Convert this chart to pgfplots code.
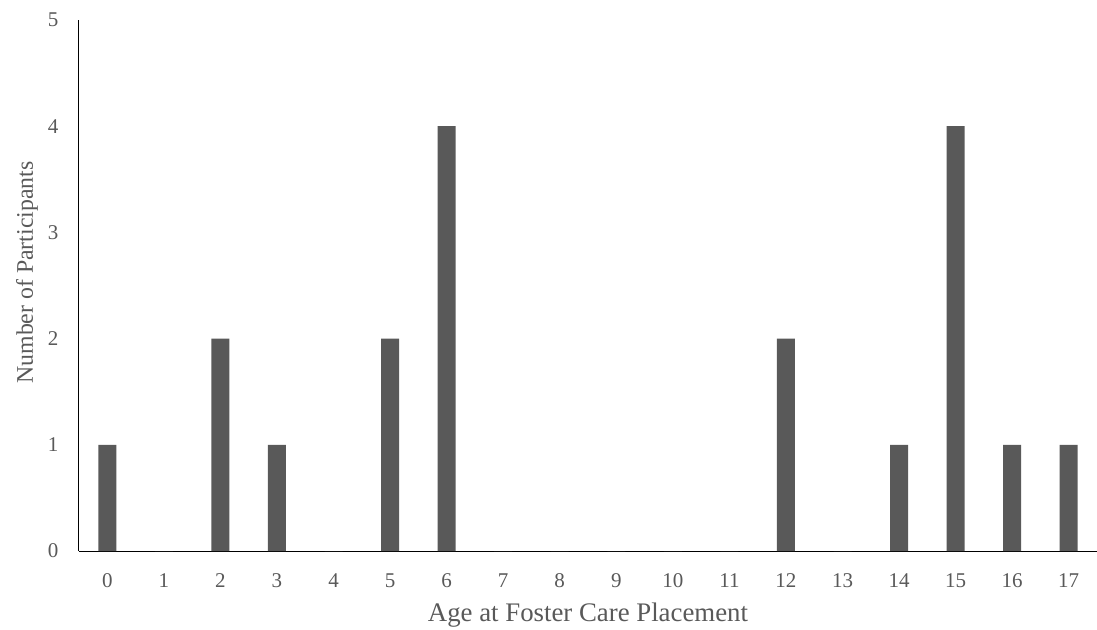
\documentclass[border=0pt]{standalone}
\usepackage{pgfplots}
\pgfplotsset{compat=1.18}
\usepackage{fontspec}
\setmainfont{Liberation Serif}
\definecolor{barg}{HTML}{595959}
\definecolor{txtg}{HTML}{595959}
\begin{document}
\begin{tikzpicture}
\path[use as bounding box] (-79pt,-78pt) rectangle (1018pt,551pt);
\begin{axis}[
  at={(0,0)}, anchor=south west,
  scale only axis,
  width=1018pt, height=531pt,
  xmin=-0.5, xmax=17.5,
  ymin=0, ymax=5,
  axis x line*=bottom, axis y line*=left,
  axis line style={black, line width=1pt, -},
  xtick={0,...,17},
  ytick={0,...,5},
  major tick length=0pt,
  /pgf/number format/assume math mode=true,
  tick label style={font=\fontsize{21}{24}\selectfont, text=txtg},
  xticklabel style={anchor=base, yshift=-36pt},
  yticklabel style={xshift=-17pt},
  xlabel={Age at Foster Care Placement},
  ylabel={Number of Participants},
  xlabel style={font=\fontsize{26.8}{30}\selectfont, text=txtg, at={(axis description cs:0.5,0)}, anchor=base, yshift=-70pt},
  ylabel style={font=\fontsize{23.8}{28}\selectfont, text=txtg, at={(axis description cs:0,0.5)}, anchor=base, yshift=46pt, xshift=13pt},
  ybar, bar width=18pt,
]
\addplot[fill=barg, draw=none] coordinates {
(0,1) (1,0) (2,2) (3,1) (4,0) (5,2) (6,4) (7,0) (8,0) (9,0) (10,0) (11,0) (12,2) (13,0) (14,1) (15,4) (16,1) (17,1)
};
\end{axis}
\end{tikzpicture}
\end{document}
